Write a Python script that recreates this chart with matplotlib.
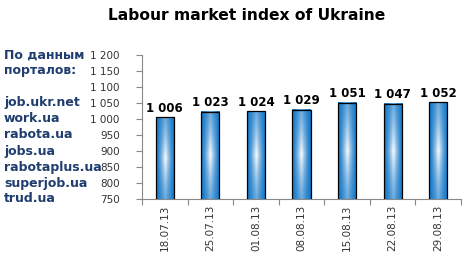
import numpy as np
import matplotlib
matplotlib.use("Agg")
import matplotlib.pyplot as plt
from matplotlib.colors import to_rgb

dates = ["18.07.13", "25.07.13", "01.08.13", "08.08.13", "15.08.13", "22.08.13", "29.08.13"]
values = [1006, 1023, 1024, 1029, 1051, 1047, 1052]
yticks = [750, 800, 850, 900, 950, 1000, 1050, 1100, 1150, 1200]
side_labels = ["По данным", "порталов:", "", "job.ukr.net", "work.ua", "rabota.ua",
               "jobs.ua", "rabotaplus.ua", "superjob.ua", "trud.ua"]


def fmt(v):
    s = f"{v:,}".replace(",", " ")
    return s


fig = plt.figure(figsize=(4.65, 2.6), dpi=100)
ax = fig.add_axes([142 / 465, 61 / 260, 319 / 465, 144 / 260])

x = np.arange(len(values))
bars = ax.bar(x, values, width=0.4, bottom=0, facecolor="none",
              edgecolor="black", linewidth=0.9, zorder=3)

# gradient fill: blue at edges, white in the middle
blue = np.array(to_rgb("#1478c8"))
nx, ny = 60, 120
u = np.linspace(0, 1, nx)
v = np.linspace(0, 1, ny)
fx = 1 - np.abs(2 * u - 1)
gy = 1 - np.abs(2 * v - 1)
w = (fx[None, :] ** 1.4) * (0.4 + 0.6 * gy[:, None] ** 1.3)
w = np.clip(w, 0, 1)
img = blue[None, None, :] * (1 - w[..., None]) + w[..., None]

for b in bars:
    x0 = b.get_x()
    x1 = x0 + b.get_width()
    ax.imshow(img, extent=[x0, x1, 750, b.get_height()], aspect="auto",
              origin="lower", zorder=2, interpolation="bilinear")

for xi, val in zip(x, values):
    ax.text(xi, val + 8, fmt(val), ha="center", va="bottom",
            fontsize=8.5, fontweight="bold", color="black")

ax.set_xlim(-0.5, len(values) - 0.5)
ax.set_ylim(750, 1200)
ax.set_yticks(yticks)
ax.set_yticklabels([fmt(t) for t in yticks], fontsize=7.5, color="#333333")
ax.set_xticks(np.arange(len(values) + 1) - 0.5, minor=False)
ax.set_xticklabels([""] * (len(values) + 1))
ax.set_xticks(x, minor=True)
ax.set_xticklabels(dates, minor=True, rotation=90, fontsize=7.5, color="#333333")
ax.tick_params(axis="x", which="minor", length=0, pad=4)
ax.tick_params(axis="x", which="major", length=4, color="#888888")
ax.tick_params(axis="y", length=4, color="#888888", pad=12)
for s in ["top", "right"]:
    ax.spines[s].set_visible(False)
ax.spines["left"].set_color("#888888")
ax.spines["bottom"].set_color("#888888")

fig.text(247 / 465, 1 - 16 / 260, "Labour market index of Ukraine",
         ha="center", va="center", fontsize=11.2, fontweight="bold")

for i, lab in enumerate(side_labels):
    yy = 55 + i * 16
    fig.text(4 / 465, 1 - yy / 260, lab, ha="left", va="center",
             fontsize=9, fontweight="bold", color="#1f3d6e")

fig.savefig("out.png", dpi=100)
